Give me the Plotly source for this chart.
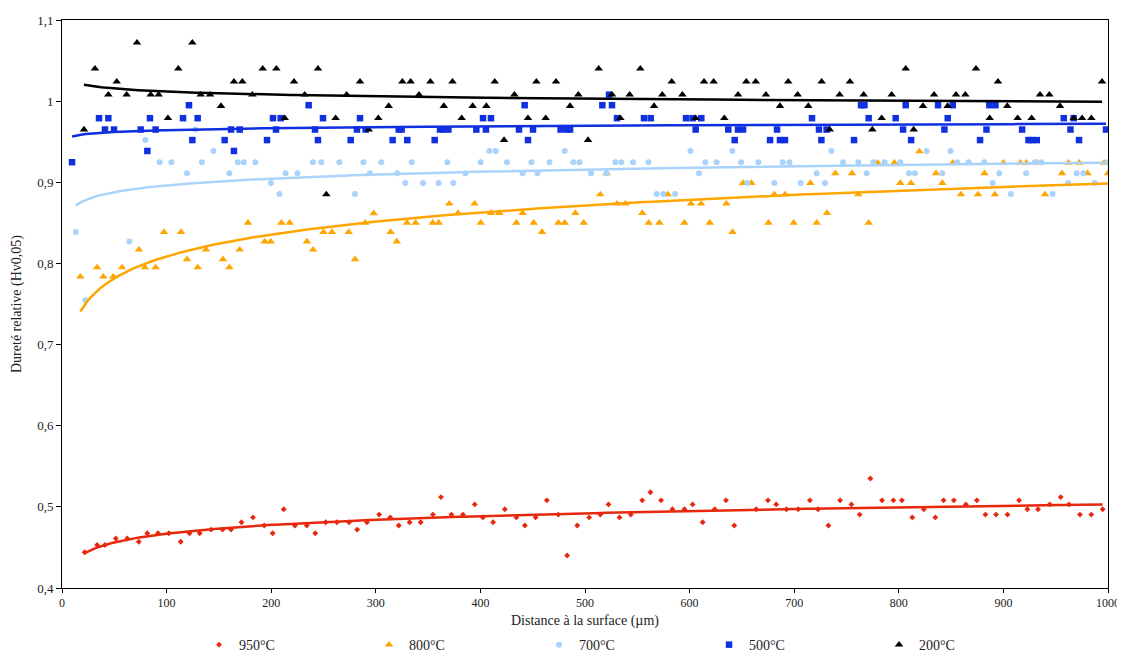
import numpy as np
import plotly.graph_objects as go

# ---------------- data ----------------
x_950 = [21.7, 33.6, 41.1, 51.4, 62.4, 73.4, 81.5, 91.8, 102.2, 113.5, 121.9, 131.6, 142.6, 153.5, 161.6,
         171.6, 182.6, 193.3, 201.4, 212.0, 222.7, 234.0, 242.1, 252.1, 262.8, 274.4, 282.2, 291.5, 303.2,
         313.8, 321.9, 332.3, 342.9, 354.6, 362.3, 372.3, 383.3, 394.6, 402.4, 412.1, 423.4, 434.4, 442.5,
         452.8, 463.5, 474.5, 482.9, 492.6, 504.0, 514.6, 522.5, 533.0, 543.8, 554.7, 562.5, 572.7, 583.6,
         595.1, 602.9, 612.5, 624.0, 634.8, 642.7, 663.7, 674.9, 682.8, 692.6, 703.8, 715.0, 722.8, 732.7,
         743.9, 754.7, 762.6, 772.8, 784.0, 794.8, 803.0, 812.9, 824.0, 834.9, 842.8, 852.6, 864.1, 874.6,
         882.8, 893.0, 903.9, 915.0, 922.9, 933.1, 944.3, 954.8, 962.7, 973.2, 984.0, 994.9]
y_950 = [0.444, 0.453, 0.453, 0.461, 0.461, 0.457, 0.4675, 0.4675, 0.4675, 0.457, 0.4675, 0.4675, 0.472, 0.472, 0.472,
         0.481, 0.487, 0.477, 0.4675, 0.497, 0.477, 0.477, 0.4675, 0.481, 0.481, 0.481, 0.472, 0.481, 0.4905,
         0.487, 0.477, 0.481, 0.481, 0.4905, 0.512, 0.4905, 0.4905, 0.503, 0.487, 0.481, 0.497, 0.487, 0.477,
         0.487, 0.508, 0.4905, 0.440, 0.477, 0.487, 0.4905, 0.503, 0.487, 0.4905, 0.508, 0.518, 0.508, 0.497,
         0.497, 0.503, 0.481, 0.497, 0.508, 0.477, 0.497, 0.508, 0.503, 0.497, 0.497, 0.508, 0.497, 0.477,
         0.508, 0.503, 0.4905, 0.535, 0.508, 0.508, 0.508, 0.487, 0.497, 0.487, 0.508, 0.508, 0.503, 0.508,
         0.4905, 0.4905, 0.4905, 0.508, 0.497, 0.497, 0.503, 0.512, 0.503, 0.4905, 0.4905, 0.497]

x_800 = [17.5, 33.5, 39.5, 49.1, 57.4, 73.6, 79.3, 89.5, 97.5, 113.8, 119.5, 129.7, 137.7, 153.9, 160.0,
         169.9, 177.8, 193.8, 199.5, 209.7, 217.7, 234.2, 240.0, 249.9, 258.1, 274.1, 280.1, 290.0, 298.0,
         314.2, 320.0, 329.8, 338.1, 354.4, 360.1, 370.3, 378.6, 394.5, 400.3, 410.1, 418.1, 434.4, 440.4,
         451.0, 458.9, 474.6, 480.6, 490.8, 498.7, 514.6, 520.7, 530.6, 538.6, 554.8, 560.9, 571.1, 579.1,
         595.0, 601.4, 611.0, 619.3, 635.2, 641.0, 651.1, 659.1, 675.4, 681.0, 691.2, 699.5, 715.4, 721.5,
         731.3, 739.3, 755.3, 761.3, 771.2, 779.8, 795.8, 801.4, 811.6, 819.7, 835.6, 841.6, 851.6, 859.4,
         875.7, 881.9, 891.9, 900.0, 916.2, 922.0, 931.9, 939.7, 956.1, 962.2, 972.4, 980.4, 996.3, 1000.0]
y_800 = [0.7836, 0.795, 0.7836, 0.7836, 0.795, 0.817, 0.795, 0.795, 0.8387, 0.8387, 0.805, 0.795, 0.817, 0.805, 0.795,
         0.817, 0.850, 0.827, 0.827, 0.850, 0.850, 0.827, 0.817, 0.8387, 0.8387, 0.8387, 0.805, 0.850, 0.8617,
         0.8387, 0.827, 0.850, 0.850, 0.850, 0.850, 0.8737, 0.862, 0.8737, 0.850, 0.862, 0.862, 0.850, 0.862,
         0.850, 0.8387, 0.850, 0.850, 0.862, 0.850, 0.885, 0.911, 0.8737, 0.8737, 0.862, 0.850, 0.850, 0.885,
         0.850, 0.8737, 0.8737, 0.850, 0.8737, 0.8387, 0.899, 0.899, 0.850, 0.885, 0.885, 0.850, 0.899, 0.850,
         0.862, 0.911, 0.911, 0.885, 0.850, 0.924, 0.924, 0.899, 0.899, 0.938, 0.911, 0.899, 0.924, 0.885,
         0.885, 0.911, 0.885, 0.924, 0.924, 0.924, 0.924, 0.885, 0.911, 0.924, 0.924, 0.911, 0.924, 0.911]

x_700 = [13.1, 22.3, 64.4, 79.7, 93.4, 104.5, 119.5, 127.5, 133.8, 144.7, 160.0, 168.0, 173.7, 184.8, 199.8,
         207.8, 213.8, 225.0, 239.9, 247.9, 265.1, 280.1, 288.1, 294.4, 305.3, 320.6, 328.2, 334.3, 345.1,
         360.1, 368.4, 374.1, 385.6, 400.2, 408.5, 414.6, 425.4, 440.4, 448.7, 454.5, 466.0, 480.6, 488.9,
         494.6, 505.8, 520.7, 529.0, 534.8, 545.9, 560.6, 568.6, 574.9, 586.1, 600.8, 609.0, 615.1, 625.9,
         640.9, 649.2, 655.2, 665.7, 681.0, 689.0, 695.4, 706.2, 721.5, 729.5, 735.5, 746.7, 761.3, 769.3,
         775.6, 786.4, 801.4, 809.7, 815.4, 826.6, 841.6, 849.5, 855.9, 866.7, 881.7, 889.7, 896.0, 907.2,
         921.8, 930.1, 936.2, 947.0, 962.0, 970.0, 976.4, 987.2, 1000.0]
y_700 = [0.8387, 0.7547, 0.827, 0.952, 0.9247, 0.9247, 0.911, 0.965, 0.9247, 0.9386, 0.911, 0.9247, 0.9247, 0.9247, 0.899,
         0.8856, 0.911, 0.911, 0.9247, 0.9247, 0.9247, 0.8856, 0.9247, 0.911, 0.9247, 0.911, 0.899, 0.9247, 0.899,
         0.899, 0.9247, 0.899, 0.911, 0.9247, 0.9386, 0.9386, 0.9247, 0.911, 0.9247, 0.911, 0.9247, 0.9386, 0.9247,
         0.9247, 0.911, 0.911, 0.9247, 0.9247, 0.9247, 0.9247, 0.8856, 0.8856, 0.8856, 0.9386, 0.911, 0.9247, 0.9247,
         0.9386, 0.9247, 0.899, 0.9247, 0.899, 0.9247, 0.9247, 0.899, 0.911, 0.899, 0.9386, 0.9247, 0.9247, 0.911,
         0.9247, 0.9247, 0.9247, 0.911, 0.911, 0.9386, 0.911, 0.9386, 0.9247, 0.9247, 0.9247, 0.899, 0.911, 0.8856,
         0.911, 0.9247, 0.9247, 0.8856, 0.899, 0.911, 0.911, 0.899, 0.9247]

x_500 = [9.6, 35.4, 41.1, 44.3, 49.7, 75.2, 81.6, 84.1, 89.5, 115.7, 121.4, 124.6, 129.7, 155.5, 161.6, 164.4,
         169.9, 196.0, 201.7, 204.6, 209.1, 235.8, 241.9, 244.7, 249.5, 276.0, 282.0, 284.9, 290.3, 316.1,
         321.9, 324.7, 330.1, 356.3, 361.4, 364.6, 369.4, 396.1, 402.5, 405.3, 410.1, 436.9, 442.3, 445.5,
         450.3, 476.7, 482.5, 485.7, 516.6, 523.0, 525.8, 530.6, 556.4, 562.8, 596.6, 602.9, 605.8, 611.2,
         637.0, 643.1, 646.3, 651.1, 676.9, 683.6, 686.4, 691.2, 717.0, 723.7, 726.0, 731.0, 757.2, 763.9,
         767.1, 771.2, 797.0, 804.1, 806.6, 811.8, 837.5, 843.6, 846.8, 851.6, 877.7, 883.8, 886.6, 892.4,
         917.9, 924.0, 927.1, 931.9, 957.7, 964.1, 967.2, 972.3, 998.1]
y_500 = [0.9247, 0.979, 0.965, 0.979, 0.965, 0.965, 0.9386, 0.979, 0.965, 0.979, 0.995, 0.952, 0.979, 0.952, 0.965, 0.9386,
         0.965, 0.952, 0.979, 0.965, 0.979, 0.995, 0.965, 0.952, 0.979, 0.952, 0.965, 0.979, 0.965, 0.952,
         0.965, 0.965, 0.952, 0.952, 0.965, 0.965, 0.965, 0.965, 0.979, 0.965, 0.979, 0.965, 0.995, 0.952,
         0.965, 0.965, 0.965, 0.965, 0.995, 1.008, 0.995, 0.979, 0.979, 0.979, 0.979, 0.979, 0.965, 0.979,
         0.965, 0.952, 0.965, 0.965, 0.952, 0.965, 0.952, 0.952, 0.979, 0.965, 0.952, 0.965, 0.952, 0.995,
         0.995, 0.979, 0.979, 0.965, 0.995, 0.952, 0.995, 0.965, 0.979, 0.995, 0.952, 0.965, 0.995, 0.995,
         0.965, 0.952, 0.952, 0.952, 0.979, 0.965, 0.979, 0.952, 0.965]

x_200 = [21.0, 31.5, 44.3, 52.3, 61.8, 71.7, 84.8, 92.4, 101.3, 111.2, 124.6, 132.6, 141.5, 152.0, 164.4,
         172.4, 182.0, 191.9, 204.9, 212.9, 221.8, 232.0, 244.7, 252.7, 261.6, 272.1, 284.9, 293.2, 302.4,
         312.3, 325.4, 333.3, 341.3, 352.2, 365.0, 373.3, 382.1, 392.6, 405.7, 413.7, 422.6, 432.5, 445.5,
         453.5, 462.4, 472.3, 485.7, 493.6, 502.9, 513.1, 525.8, 533.8, 542.7, 552.9, 566.0, 573.9, 582.9,
         593.1, 605.8, 613.8, 623.0, 633.2, 646.3, 654.2, 663.2, 673.0, 686.4, 694.3, 703.3, 713.5, 726.2,
         733.9, 743.4, 753.3, 766.4, 774.7, 783.6, 793.2, 806.6, 814.2, 823.1, 833.7, 846.7, 854.7, 863.6,
         873.8, 886.9, 894.8, 903.7, 913.6, 927.0, 935.0, 943.9, 954.1, 967.2, 975.2, 984.1, 994.3]
y_200 = [0.965, 1.040, 1.008, 1.024, 1.008, 1.072, 1.008, 1.008, 0.979, 1.040, 1.072, 1.008, 1.008, 0.994, 1.024,
         1.024, 1.008, 1.040, 1.040, 0.979, 1.024, 1.008, 1.040, 0.885, 0.979, 1.008, 1.024, 0.965, 0.979,
         0.994, 1.024, 1.024, 1.008, 1.024, 0.994, 1.024, 0.979, 0.994, 0.994, 1.024, 0.952, 1.008, 0.979,
         1.024, 0.979, 1.024, 0.994, 1.008, 0.952, 1.040, 1.008, 0.979, 1.008, 1.040, 0.994, 1.008, 1.024,
         1.008, 0.979, 1.024, 1.024, 0.979, 1.008, 1.024, 1.024, 1.008, 0.994, 1.024, 1.008, 0.994, 1.024,
         0.965, 1.008, 1.024, 1.008, 0.965, 0.979, 1.008, 1.040, 0.965, 0.994, 1.008, 0.994, 1.008, 1.008,
         1.040, 0.979, 1.024, 0.994, 0.979, 0.979, 1.008, 1.008, 0.994, 0.979, 0.979, 0.979, 1.024]

series_names = ["950°C", "800°C", "700°C", "500°C", "200°C"]
series_x = [x_950, x_800, x_700, x_500, x_200]
series_y = [y_950, y_800, y_700, y_500, y_200]

y_tick_vals = [0.4, 0.5, 0.6, 0.7, 0.8, 0.9, 1.0, 1.1]
y_tick_text = ["0,4", "0,5", "0,6", "0,7", "0,8", "0,9", "1", "1,1"]
x_tick_vals = [0, 100, 200, 300, 400, 500, 600, 700, 800, 900, 1000]
x_title = "Distance à la surface (µm)"
y_title = "Dureté relative (Hv0,05)"

# ---------------- styles ----------------
colors = ["#E8280C", "#FFA500", "#A9D3FB", "#0F2FE0", "#000000"]
symbols = ["diamond", "triangle-up", "circle", "square", "triangle-up"]
sizes = [4.5, 7.5, 6, 6.5, 7.5]
FONT = "Liberation Serif"
TXT = "#222222"

fig = go.Figure()
for name, xs, ys, c, s, sz in zip(series_names, series_x, series_y, colors, symbols, sizes):
    fig.add_trace(go.Scatter(x=xs, y=ys, mode="markers", name=name,
                             marker=dict(symbol=s, size=sz, color=c, line=dict(width=0))))

# logarithmic trend lines (least squares on a + b ln x)
for xs, ys, c in zip(series_x, series_y, colors):
    xa = np.array(xs, dtype=float)
    ya = np.array(ys, dtype=float)
    b, a = np.polyfit(np.log(xa), ya, 1)
    xt = np.linspace(xa.min(), xa.max(), 300)
    fig.add_trace(go.Scatter(x=xt, y=a + b * np.log(xt), mode="lines", showlegend=False,
                             hoverinfo="skip", line=dict(color=c, width=2.5)))

# the page body adds an 8px offset, so the figure is shifted accordingly
fig.update_layout(
    width=1117, height=647,
    margin=dict(l=54, r=17, t=12, b=67, autoexpand=False),
    paper_bgcolor="white", plot_bgcolor="white",
    font=dict(family=FONT, size=12, color=TXT),
    showlegend=True,
    legend=dict(orientation="h", x=0.131, xanchor="left", y=-0.1004, yanchor="middle",
                entrywidth=125, entrywidthmode="pixels", itemwidth=30,
                font=dict(family=FONT, size=14, color=TXT), bgcolor="rgba(0,0,0,0)"),
    annotations=[
        dict(text=x_title, xref="paper", yref="paper", x=0.5, y=0, xanchor="center", yanchor="middle",
             yshift=-33, showarrow=False, font=dict(family=FONT, size=14, color=TXT)),
        dict(text=y_title, xref="paper", yref="paper", x=0, y=0.5, xanchor="center", yanchor="middle",
             xshift=-45, textangle=-90, showarrow=False, font=dict(family=FONT, size=14, color=TXT)),
    ],
)
fig.update_xaxes(range=[0, 1000], tickvals=x_tick_vals, ticks="outside", ticklen=4, automargin=False,
                 ticklabeloverflow="allow",
                 tickcolor="#000000", showline=True, linecolor="#000000", linewidth=1, mirror=True,
                 showgrid=False, zeroline=False, tickfont=dict(size=12, color=TXT))
fig.update_yaxes(range=[0.4, 1.1], tickvals=y_tick_vals, ticktext=y_tick_text, ticks="outside", ticklen=5,
                 automargin=False,
                 tickcolor="#000000", showline=True, linecolor="#000000", linewidth=1, mirror=True,
                 showgrid=False, zeroline=False, tickfont=dict(size=13, color=TXT))

fig.write_html("out.html")
